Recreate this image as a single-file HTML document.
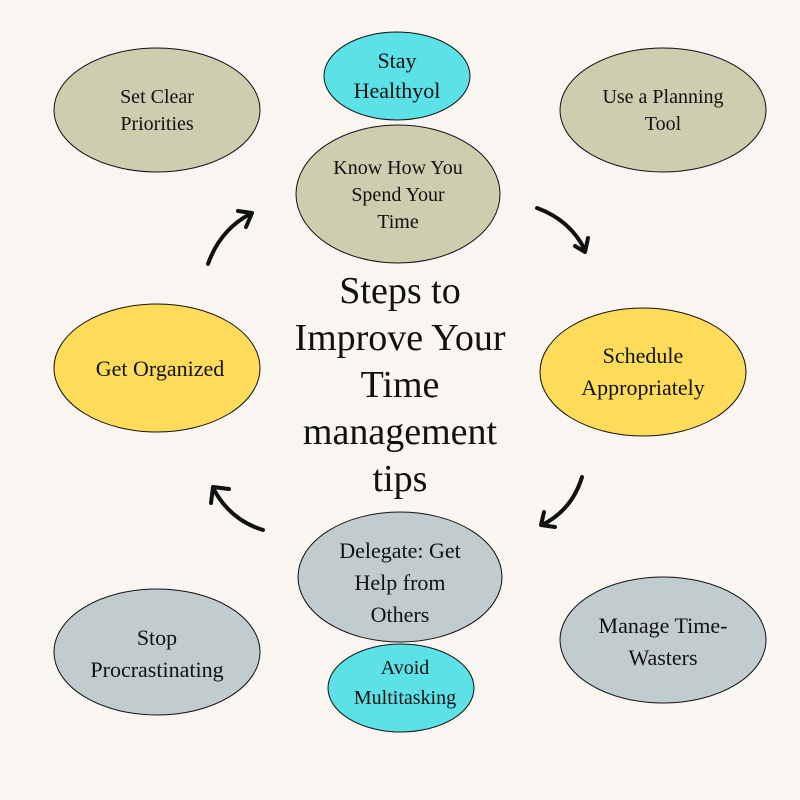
<!DOCTYPE html>
<html><head><style>
body{margin:0;background:#f9f5f1;}
svg{display:block}
text{font-family:"Liberation Serif",serif;fill:#111;text-anchor:middle}
</style></head><body>
<svg width="800" height="800" viewBox="0 0 800 800">
<rect width="800" height="800" fill="#f9f5f1"/>
<g stroke="#111" stroke-width="1">
<ellipse cx="157" cy="110" rx="103" ry="62" fill="#cfcdb0"/>
<ellipse cx="663" cy="110" rx="103" ry="62" fill="#cfcdb0"/>
<ellipse cx="398" cy="194" rx="102" ry="69" fill="#cfcdb0"/>
<ellipse cx="397" cy="76" rx="73" ry="44" fill="#5ce1e6"/>
<ellipse cx="157" cy="368" rx="103" ry="64" fill="#fedc5a"/>
<ellipse cx="643" cy="372" rx="103" ry="64" fill="#fedc5a"/>
<ellipse cx="400" cy="577" rx="102" ry="65" fill="#c1cccf"/>
<ellipse cx="401" cy="688" rx="73" ry="44" fill="#5ce1e6"/>
<ellipse cx="157" cy="652" rx="103" ry="63" fill="#c1cccf"/>
<ellipse cx="663" cy="640" rx="103" ry="63" fill="#c1cccf"/>
</g>
<g fill="none" stroke="#111" stroke-width="4" stroke-linecap="round" stroke-linejoin="round">
<path d="M208,264 Q220,230 250,214"/><path d="M238,211 L252,213 L246,227"/>
<path d="M537,208 Q570,220 585,250"/><path d="M575,246 L585,252 L588,238"/>
<path d="M582,477 Q572,510 542,525"/><path d="M544,512 L541,525 L555,527"/>
<path d="M263,530 Q230,520 213,488"/><path d="M211,503 L213,487 L229,489"/>
</g>
<g font-size="20">
<text x="157" y="103">Set Clear</text><text x="157" y="130">Priorities</text>
<text x="397" y="68" font-size="22">Stay</text><text x="397" y="98" font-size="22">Healthyol</text>
<text x="663" y="103">Use a Planning</text><text x="663" y="130">Tool</text>
<text x="398" y="174">Know How You</text><text x="398" y="201">Spend Your</text><text x="398" y="228">Time</text>
<text x="160" y="376" font-size="22">Get Organized</text>
<text x="643" y="363" font-size="22">Schedule</text><text x="643" y="395" font-size="22">Appropriately</text>
<text x="400" y="558" font-size="22">Delegate: Get</text><text x="400" y="590" font-size="22">Help from</text><text x="400" y="622" font-size="22">Others</text>
<text x="405" y="674">Avoid</text><text x="405" y="704">Multitasking</text>
<text x="157" y="645" font-size="22">Stop</text><text x="157" y="677" font-size="22">Procrastinating</text>
<text x="663" y="633" font-size="22">Manage Time-</text><text x="663" y="665" font-size="22">Wasters</text>
</g>
<g font-size="38">
<text x="400" y="303">Steps to</text>
<text x="400" y="350">Improve Your</text>
<text x="400" y="397">Time</text>
<text x="400" y="444">management</text>
<text x="400" y="491">tips</text>
</g>
</svg>
</body></html>
